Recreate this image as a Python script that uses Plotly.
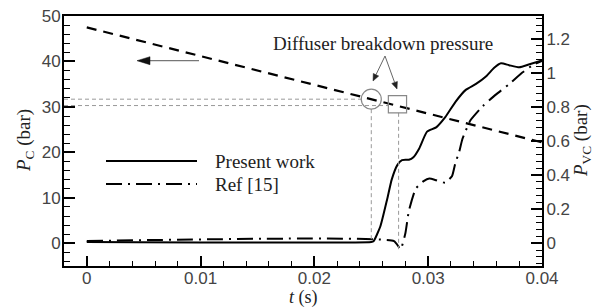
import plotly.graph_objects as go

# ---- data ----
t_present = [0.0, 0.0250, 0.0252, 0.0258, 0.0264, 0.0268, 0.0273, 0.0277, 0.0283, 0.0287,
             0.0292, 0.0299, 0.0307, 0.0315, 0.0324, 0.0333, 0.0342, 0.0351, 0.0358,
             0.0364, 0.0371, 0.0380, 0.0389, 0.0400]
p_present = [0.008, 0.008, 0.012, 0.10, 0.26, 0.375, 0.46, 0.488, 0.490, 0.505,
             0.555, 0.655, 0.68, 0.74, 0.83, 0.90, 0.935, 0.98, 1.03,
             1.056, 1.045, 1.032, 1.05, 1.072]

t_ref = [0.0, 0.0270, 0.02758, 0.0280, 0.0283, 0.0289, 0.0296, 0.0301, 0.0307, 0.0315,
         0.0321, 0.0324, 0.0327, 0.0330, 0.0337, 0.0348, 0.0360, 0.0371, 0.0383, 0.0393, 0.0400]
p_ref = [0.013, 0.013, -0.035, 0.06, 0.19, 0.32, 0.365, 0.38, 0.37, 0.355,
         0.395, 0.475, 0.53, 0.61, 0.72, 0.805, 0.875, 0.933, 1.003, 1.05, 1.07]

t_pc = [0.0, 0.04]
p_pc = [47.5, 22.2]

# breakdown points (t, P_C)
t_circle, p_circle = 0.0250, 31.7
t_square, p_square = 0.0273, 30.6

x_ticks = [0, 0.01, 0.02, 0.03, 0.04]
x_ticktext = ["0", "0.01", "0.02", "0.03", "0.04"]
y_left_ticks = [0, 10, 20, 30, 40, 50]
y_right_ticks = [0, 0.2, 0.4, 0.6, 0.8, 1.0, 1.2]
y_right_ticktext = ["0", "0.2", "0.4", "0.6", "0.8", "1", "1.2"]

serif = "Liberation Serif, Times New Roman, serif"
sans = "Liberation Sans, Arial, sans-serif"
tick_color = "#444444"
gray = "#999999"
text_color = "#222222"

OFF = 8  # page body margin
W, H = 603 - OFF, 307 - OFF
ML, MT = 64 - OFF, 16 - OFF
MR = W - (542 - OFF)
MB = H - (266 - OFF)
X_RANGE = [-0.002, 0.04]
Y_RANGE = [-5, 50]
PW = W - ML - MR
PH = H - MT - MB


def px(xp, yp):
    """screen pixel position -> data coords on x / left y axis"""
    x = X_RANGE[0] + (xp - OFF - ML) / PW * (X_RANGE[1] - X_RANGE[0])
    y = Y_RANGE[1] - (yp - OFF - MT) / PH * (Y_RANGE[1] - Y_RANGE[0])
    return x, y


def paper(xp, yp):
    """screen pixel position -> paper coords of the plot area"""
    return (xp - OFF - ML) / PW, 1 - (yp - OFF - MT) / PH


fig = go.Figure()

fig.add_trace(go.Scatter(x=t_pc, y=p_pc, mode="lines", yaxis="y",
                         line=dict(color="black", width=2.2, dash="10px,7px"),
                         showlegend=False))
fig.add_trace(go.Scatter(x=t_present, y=p_present, mode="lines", yaxis="y2",
                         line=dict(color="black", width=2, shape="spline", smoothing=0.5),
                         showlegend=False))
fig.add_trace(go.Scatter(x=t_ref, y=p_ref, mode="lines", yaxis="y2",
                         line=dict(color="black", width=2, dash="16px,6px,2px,6px",
                                   shape="spline", smoothing=0.4),
                         showlegend=False))

shapes = []
gdash = dict(color=gray, width=1, dash="4px,3px")
# gray guide lines
shapes.append(dict(type="line", xref="x", yref="y", x0=X_RANGE[0], x1=t_circle - 0.00088,
                   y0=p_circle, y1=p_circle, line=gdash))
shapes.append(dict(type="line", xref="x", yref="y", x0=X_RANGE[0], x1=t_square - 0.0008,
                   y0=p_square - 0.3, y1=p_square - 0.3, line=gdash))
shapes.append(dict(type="line", xref="x", yref="y", x0=t_circle, x1=t_circle,
                   y0=p_circle - 2.2, y1=0.5, line=gdash))
shapes.append(dict(type="line", xref="x", yref="y", x0=t_square + 0.0001, x1=t_square + 0.0001,
                   y0=p_square - 1.9, y1=-1.3, line=gdash))
# circle and square markers
shapes.append(dict(type="circle", xref="x", yref="y", x0=t_circle - 0.00088, x1=t_circle + 0.00088,
                   y0=p_circle - 2.2, y1=p_circle + 2.2, line=dict(color="#888888", width=1.2)))
shapes.append(dict(type="rect", xref="x", yref="y", x0=t_square - 0.0008, x1=t_square + 0.0008,
                   y0=p_square - 1.9, y1=p_square + 1.9, line=dict(color="#888888", width=1.2)))
# legend samples
lx0, ly1 = px(106, 161)
lx1, ly2 = px(197, 184)
shapes.append(dict(type="line", xref="x", yref="y", x0=lx0, x1=lx1, y0=ly1, y1=ly1,
                   line=dict(color="black", width=2)))
shapes.append(dict(type="line", xref="x", yref="y", x0=lx0, x1=lx1, y0=ly2, y1=ly2,
                   line=dict(color="black", width=2, dash="16px,6px,2px,6px")))


def seg(p0, p1, color, width):
    a = px(*p0)
    b = px(*p1)
    return dict(type="line", xref="x", yref="y", x0=a[0], y0=a[1], x1=b[0], y1=b[1],
                line=dict(color=color, width=width))


def tri(pts, color):
    c = [px(*p) for p in pts]
    path = "M {} {} L {} {} L {} {} Z".format(c[0][0], c[0][1], c[1][0], c[1][1], c[2][0], c[2][1])
    return dict(type="path", xref="x", yref="y", path=path, fillcolor=color,
                line=dict(color=color, width=0.5))


# arrows from the label to circle / square
shapes.append(seg((385, 56), (376.0, 74.7), "#666666", 1))
shapes.append(tri([(373, 81), (378.7, 76.0), (373.3, 73.4)], "#222222"))
shapes.append(seg((385, 56), (394.6, 82.4), "#666666", 1))
shapes.append(tri([(397, 89), (397.4, 81.4), (391.8, 83.4)], "#222222"))
# left-pointing arrow
shapes.append(seg((148, 60.7), (199, 60.7), "#777777", 1.2))
shapes.append(tri([(137, 60.7), (150, 56.7), (150, 64.7)], "#111111"))

lt1 = px(213, 161)
lt2 = px(213, 184)
ttl = px(383, 43)
p_left = paper(25, 141)
p_right = paper(582, 141)
p_bottom = paper(303, 297)
annotations = [
    dict(x=lt1[0], y=lt1[1], xref="x", yref="y", text="Present work", showarrow=False,
         xanchor="left", yanchor="middle", font=dict(family=serif, size=19, color=text_color)),
    dict(x=lt2[0], y=lt2[1], xref="x", yref="y", text="Ref [15]", showarrow=False,
         xanchor="left", yanchor="middle", font=dict(family=serif, size=19, color=text_color)),
    dict(x=ttl[0], y=ttl[1], xref="x", yref="y", text="Diffuser breakdown pressure", showarrow=False,
         xanchor="center", yanchor="middle", font=dict(family=serif, size=19, color=text_color)),
    # axis titles
    dict(x=p_left[0], y=p_left[1], xref="paper", yref="paper", text="<i>P</i><sub>C</sub> (bar)",
         textangle=-90, showarrow=False, xanchor="center", yanchor="middle",
         font=dict(family=serif, size=19, color=text_color)),
    dict(x=p_right[0], y=p_right[1], xref="paper", yref="paper", text="<i>P</i><sub>VC</sub> (bar)",
         textangle=-90, showarrow=False, xanchor="center", yanchor="middle",
         font=dict(family=serif, size=19, color=text_color)),
    dict(x=p_bottom[0], y=p_bottom[1], xref="paper", yref="paper", text="<i>t</i> (s)",
         showarrow=False, xanchor="center", yanchor="middle",
         font=dict(family=serif, size=18, color=text_color)),
]

fig.update_layout(
    width=W, height=H,
    margin=dict(l=ML, r=MR, t=MT, b=MB, autoexpand=False),
    paper_bgcolor="white", plot_bgcolor="white",
    showlegend=False,
    shapes=shapes,
    annotations=annotations,
    xaxis=dict(range=X_RANGE, tickvals=x_ticks, ticktext=x_ticktext, automargin=False,
               ticks="inside", ticklen=10, tickwidth=2, tickcolor="black", ticklabelstandoff=-4,
               ticklabeloverflow="allow",
               minor=dict(ticks="inside", dtick=0.002, ticklen=5, tickwidth=1, tickcolor="black"),
               showline=True, linecolor="black", linewidth=2, mirror=True,
               showgrid=False, zeroline=False,
               tickfont=dict(family=sans, size=17, color=tick_color)),
    yaxis=dict(range=Y_RANGE, tickvals=y_left_ticks, automargin=False,
               ticks="inside", ticklen=11, tickwidth=2, tickcolor="black", ticklabelstandoff=-2,
               ticklabeloverflow="allow",
               minor=dict(ticks="inside", dtick=2, ticklen=6, tickwidth=1, tickcolor="black"),
               showline=True, linecolor="black", linewidth=2,
               showgrid=False, zeroline=False,
               tickfont=dict(family=sans, size=17, color=tick_color)),
    yaxis2=dict(range=[Y_RANGE[0] / 37.5, Y_RANGE[1] / 37.5], tickvals=y_right_ticks,
                ticktext=y_right_ticktext, automargin=False,
                overlaying="y", side="right", anchor="x",
                ticks="inside", ticklen=11, tickwidth=2, tickcolor="black", ticklabelstandoff=-1,
                ticklabeloverflow="allow",
                minor=dict(ticks="inside", dtick=0.04, ticklen=6, tickwidth=1, tickcolor="black"),
                showline=True, linecolor="black", linewidth=2,
                showgrid=False, zeroline=False,
                tickfont=dict(family=sans, size=17, color=tick_color)),
)

fig.write_html("out.html")
